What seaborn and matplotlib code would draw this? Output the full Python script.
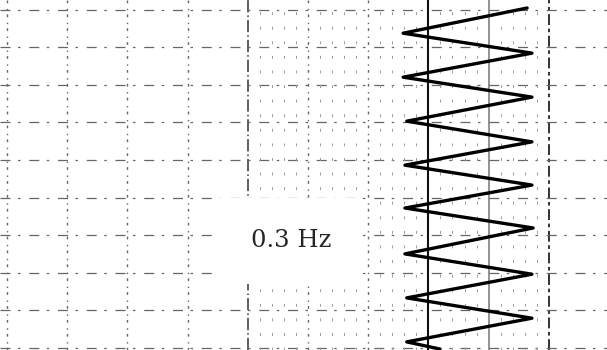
import numpy as np
import matplotlib
matplotlib.use("Agg")
import matplotlib.pyplot as plt
import seaborn as sns

# chart-paper grid, in divisions
vgrid = [0, 1, 2, 3, 4, 5, 6, 7, 8, 9]
hgrid = [0, 1, 2, 3, 4, 5, 6, 7, 8, 9]

# pen trace (x = deflection, t = paper travel, both in divisions)
trace_x = [8.64, 6.58, 8.72, 6.58, 8.72, 6.64, 8.72, 6.61, 8.72,
           6.61, 8.74, 6.61, 8.72, 6.64, 8.72, 6.64, 7.19]
trace_t = [-0.04, 0.63, 1.16, 1.80, 2.33, 2.97, 3.52, 4.14, 4.67,
           5.28, 5.81, 6.50, 7.04, 7.67, 8.21, 8.84, 9.03]

label = "0.3 Hz"

sns.set_style("white")
fig = plt.figure(figsize=(6.07, 3.5), dpi=100)
ax = fig.add_axes([0, 0, 1, 1])

# major grid, patchy like a scanned recorder chart
for v in vgrid:
    if v == 7:
        ax.axvline(v, color="#111111", lw=1.5, zorder=1)
    elif v == 8:
        ax.axvline(v, color="#808080", lw=1.2, zorder=1)
    elif v == 9:
        ax.axvline(v, color="#222222", lw=1.3, ls=(0, (6, 2, 2, 2)), zorder=1)
    elif v == 4:
        ax.axvline(v, color="#333333", lw=1.1, ls=(0, (8, 2, 1, 2)), zorder=1)
    else:
        ax.axvline(v, color="#666666", lw=1.0, ls=(0, (2, 3, 1, 4)), zorder=1)
for h in hgrid:
    ax.axhline(h, color="#666666", lw=0.9, ls=(0, (8, 6, 2, 7)), zorder=1)

# minor divisions on the right half
for v in np.arange(4, 9.01, 0.2):
    if abs(v - round(v)) > 0.05:
        ax.axvline(v, color="#9a9a9a", lw=0.7, ls=(0, (3, 12)), zorder=1)

sns.lineplot(x=trace_x, y=trace_t, sort=False, estimator=None,
             color="black", lw=2.4, ax=ax, zorder=3)

ax.text(4.72, 6.15, label, ha="center", va="center", fontsize=17.5,
        family="DejaVu Serif", zorder=2,
        bbox=dict(boxstyle="square,pad=1.3", fc="white", ec="none"))

ax.set_xlim(-0.116, 9.967)
ax.set_ylim(9.056, -0.253)
ax.set_xticks([])
ax.set_yticks([])
for s in ax.spines.values():
    s.set_visible(False)

fig.savefig("out.png", dpi=100)
